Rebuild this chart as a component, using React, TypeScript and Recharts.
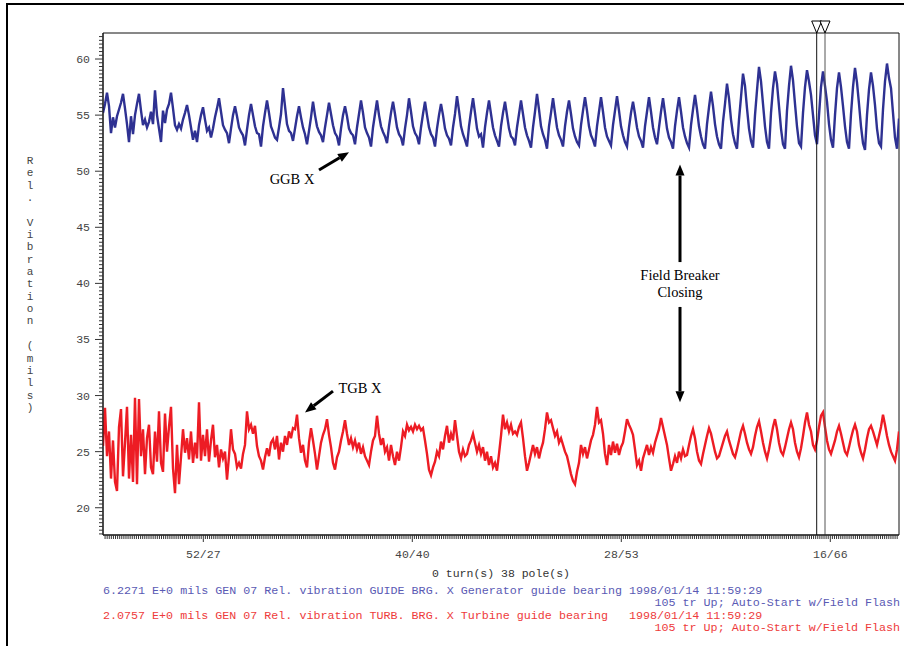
import React from 'react';
import { LineChart, Line, XAxis, YAxis, ReferenceLine, ReferenceArea, ReferenceDot } from 'recharts';

// GGB X (generator guide bearing), one value per sample
const ggbValues = [
  55.2, 56.0, 57.0, 55.8, 53.4, 54.8, 53.9, 54.9, 55.5, 56.1,
  56.9, 55.6, 54.2, 52.6, 54.9, 53.3, 55.0, 56.0, 56.9, 55.4,
  54.1, 54.6, 53.9, 54.4, 55.3, 54.2, 57.2, 55.0, 53.8, 52.6,
  55.4, 54.3, 55.5, 56.0, 57.0, 55.6, 54.1, 53.7, 54.2, 53.8,
  54.6, 55.2, 55.9, 55.0, 53.9, 52.8, 53.6, 52.6, 54.1, 55.0,
  55.7, 54.6, 53.6, 53.9, 53.0, 53.8, 54.8, 55.6,
  56.5, 55.3, 54.1, 53.7, 53.4, 52.5, 53.8, 55.0,
  55.8, 54.9, 53.9, 53.5, 53.2, 52.3, 53.7, 55.0,
  56.0, 55.0, 54.0, 53.4, 53.3, 52.2, 54.0, 55.2,
  56.3, 55.2, 54.0, 53.5, 53.0, 52.8, 53.9, 55.1,
  57.4, 55.8, 54.2, 53.6, 53.4, 52.7, 53.8, 54.9,
  55.8, 54.8, 53.9, 53.3, 52.4, 53.6, 54.8,
  56.2, 55.0, 54.0, 53.5, 53.2, 52.6, 53.9, 55.0,
  56.1, 55.1, 54.1, 53.4, 53.1, 52.3, 53.8, 55.0,
  55.8, 54.9, 53.8, 53.4, 53.2, 52.4, 53.9, 55.1,
  56.3, 55.2, 53.9, 53.4, 53.0, 52.2, 53.9, 55.1,
  56.3, 55.0, 54.0, 53.5, 53.1, 52.5, 54.0, 55.2,
  56.2, 55.1, 53.9, 53.3, 53.0, 52.3, 53.8, 55.0,
  56.5, 55.3, 54.0, 53.4, 53.1, 52.4, 53.9, 55.1,
  56.2, 55.0, 53.9, 53.3, 53.0, 52.2, 53.8, 55.0,
  56.0, 55.0, 53.8, 53.2, 52.9, 52.3, 53.9, 55.1,
  56.7, 55.4, 54.0, 53.3, 52.8, 52.2, 54.0, 55.3,
  56.5, 55.2, 53.8, 53.1, 53.3, 52.1, 53.9, 55.2,
  56.3, 55.1, 53.9, 53.2, 52.7, 52.2, 54.0, 55.2,
  56.2, 55.0, 53.8, 53.1, 52.9, 52.3, 53.9, 55.1,
  56.3, 55.1, 53.9, 53.2, 52.7, 52.1, 53.9, 55.3,
  56.9, 55.5, 54.0, 53.3, 52.8, 52.0, 54.0, 55.2,
  56.5, 55.2, 53.9, 53.2, 52.8, 52.2, 54.0, 55.3,
  56.3, 55.1, 53.8, 53.1, 52.6, 52.3, 54.1, 55.4,
  56.6, 55.4, 54.0, 53.2, 52.8, 52.2, 54.0, 55.3,
  56.6, 55.3, 53.9, 53.1, 52.7, 52.3, 54.1, 55.4,
  56.7, 55.4, 54.0, 53.2, 52.6, 52.2, 53.9, 55.2,
  56.2, 55.1, 53.9, 53.1, 52.7, 52.1, 54.0, 55.3,
  56.6, 55.3, 53.9, 53.0, 52.4, 53.9, 55.3,
  56.5, 55.2, 53.8, 53.0, 52.6, 52.0, 54.0, 55.4,
  56.6, 55.3, 53.9, 53.1, 52.5, 52.1, 54.1, 55.5,
  56.8, 55.5, 54.0, 53.1, 52.4, 52.0, 54.2, 55.7,
  57.1, 55.8, 54.2, 53.1, 52.4, 52.0, 54.4, 56.0,
  57.8, 56.5, 54.6, 53.3, 52.5, 52.0, 54.6, 56.6,
  58.7, 57.6, 55.6, 53.8, 52.7, 52.1, 55.0, 57.2,
  59.3, 58.0, 56.0, 54.0, 52.6, 52.0, 55.2, 57.4,
  58.9, 57.8, 55.8, 53.8, 52.4, 52.0, 55.4, 57.6,
  59.4, 58.1, 56.0, 54.0, 52.5, 52.2, 55.2, 57.5,
  59.0, 58.0, 56.8, 55.0, 53.2, 52.4, 55.0, 57.5,
  58.9, 57.6, 56.2, 54.2, 52.8, 52.1, 55.0, 57.4,
  58.8, 57.5, 55.8, 54.0, 52.6, 52.0, 55.1, 57.5,
  59.2, 57.9, 56.0, 54.0, 52.5, 51.9, 55.0, 57.3,
  58.8, 57.6, 55.9, 53.8, 52.5, 52.2, 55.5, 58.0,
  59.6, 58.3, 57.4, 55.2, 53.0, 52.0, 54.7,
];

// TGB X (turbine guide bearing), one value per sample
const tgbValues = [
  25.5, 28.9, 24.6, 26.8, 22.6, 26.0, 22.3, 21.5, 27.2, 28.8,
  22.8, 25.8, 29.0, 22.6, 26.5, 22.3, 29.8, 22.1, 29.7, 24.6,
  27.0, 23.0, 26.2, 27.4, 23.6, 23.0, 26.8, 24.1, 28.6, 24.0,
  23.2, 28.4, 25.0, 27.2, 29.0, 23.5, 21.3, 25.6, 22.1, 24.5,
  27.0, 24.9, 26.2, 24.3, 26.8, 24.0, 25.8, 24.4, 29.4, 24.2,
  26.5, 24.6, 27.0, 24.1, 26.0, 27.4, 24.5, 25.6, 23.6, 25.2,
  24.4, 25.0, 22.5, 24.6, 27.0, 25.2, 24.8, 23.6, 24.0, 23.5,
  24.8, 25.6, 28.6, 27.0, 27.4, 26.6, 27.3, 25.5, 24.6, 24.2,
  23.4, 24.5, 25.3, 24.6, 25.8, 26.1, 25.2, 26.4, 24.3, 25.8,
  25.0, 26.4, 25.6, 26.8, 26.2, 27.1, 27.0, 28.3, 26.2, 24.9,
  25.6, 24.2, 23.6, 25.8, 27.1, 26.0, 24.8, 23.4, 24.6, 25.8,
  26.5, 27.0, 27.9, 26.5, 25.4, 24.0, 23.4, 24.5, 25.0, 26.0,
  26.8, 27.8, 26.6, 25.6, 26.2, 25.4, 26.0, 25.2, 25.8, 24.8,
  25.4, 24.6, 24.2, 23.8, 25.0, 26.0, 26.4, 28.2, 26.6, 25.6,
  26.2, 25.0, 25.4, 24.2, 25.6, 24.6, 23.8, 25.0, 24.2, 25.4,
  26.8, 26.4, 27.4, 26.9, 27.2, 26.8, 27.4, 27.0, 27.3, 26.9,
  27.1, 26.0, 24.8, 23.4, 22.9, 23.6, 24.1, 25.0, 24.6, 25.9,
  25.2, 26.4, 27.3, 25.8, 26.6, 26.0, 27.8, 26.4, 25.0, 24.4,
  25.2, 24.6, 24.8, 25.6, 26.0, 26.6, 25.8, 25.0, 25.6, 24.8,
  25.4, 24.2, 25.0, 23.8, 24.6, 23.6, 24.0, 23.3, 24.8, 26.4,
  28.3, 27.0, 27.6, 26.8, 27.4, 26.6, 26.8, 26.5, 27.2, 27.6,
  26.2, 24.6, 23.3, 24.0, 24.8, 25.6, 24.8, 25.4, 24.4, 25.2,
  25.8, 27.0, 28.5, 27.6, 27.8, 27.1, 26.4, 26.8, 25.8, 26.2,
  25.6, 25.0, 24.6, 23.8, 23.0, 22.4, 22.1, 23.2, 24.0, 25.6,
  24.8, 25.4, 24.4, 25.2, 26.0, 26.5, 27.4, 29.0, 27.6, 27.8,
  26.6, 24.8, 23.8, 25.6, 24.7, 25.9, 24.9, 25.7, 24.7, 25.4,
  25.8, 26.8, 27.9, 27.4, 27.0, 26.5, 25.2, 23.8, 24.2, 23.3,
  24.4, 25.0, 25.6, 24.7, 25.4, 24.9, 25.8, 26.4, 27.0, 28.0,
  27.2, 26.4, 25.6, 24.4, 23.3, 23.9, 24.6, 24.0, 25.0, 24.4,
  25.2, 24.6, 24.7, 25.6, 26.4, 27.0, 26.2, 25.0, 24.2, 23.9,
  24.8, 25.6, 26.4, 27.1, 26.6, 25.8, 25.0, 24.4, 24.6, 25.2,
  25.8, 26.4, 26.8, 26.0, 25.4, 24.8, 24.5, 25.2, 26.0, 26.8,
  27.3, 26.6, 25.8, 25.2, 24.8, 25.4, 26.4, 27.2, 27.7, 26.8,
  25.8, 25.0, 24.4, 25.2, 26.2, 27.2, 27.9, 27.0, 25.8, 25.0,
  24.7, 25.4, 26.2, 27.0, 27.6, 27.0, 25.8, 25.0, 24.5, 25.3,
  26.4, 27.6, 28.5, 27.4, 26.8, 25.6, 25.2, 26.0, 27.2, 28.2,
  28.5, 27.2, 26.0, 25.2, 24.8, 25.4, 26.0, 26.8, 27.3, 26.6,
  25.8, 25.0, 24.7, 25.4, 26.2, 26.9, 27.4, 26.8, 25.6, 24.9,
  24.4, 25.2, 26.2, 27.0, 27.3, 26.8, 26.2, 25.6, 26.4, 27.2,
  28.3, 27.4, 26.4, 25.6, 25.0, 24.6, 24.2, 25.2, 26.8,
];

// x axis: sample index, labelled turn/pole
const xMajorTicks = [50.15, 154.65, 259.15, 363.65];
const xMajorLabels = ['52/27', '40/40', '28/53', '16/66'];
const cursorSamples = [356.85, 361];
const xDomain: [number, number] = [0, 398];
const yDomain: [number, number] = [17.57, 62.32];

const data = ggbValues.map((v, i) => ({ sample: i, ggb: v, tgb: tgbValues[i] }));

const xTicks: number[] = [];
for (let k = -47; k <= 332; k++) xTicks.push(50.15 + k * 1.045);
const yTicks: number[] = [];
for (let k = 53; k <= 186; k++) yTicks.push(k / 3);

const mono = '"Liberation Mono", "DejaVu Sans Mono", monospace';
const serif = '"Liberation Serif", "DejaVu Serif", serif';

const BLUE = '#2e3192';
const RED = '#ed1c24';

function YTick(props: any) {
  const { x, y, payload } = props;
  const k = Math.round(payload.value * 3);
  const major = k % 15 === 0;
  return (
    <g>
      <line x1={x - (major ? 8 : 4)} x2={x} y1={y} y2={y} stroke="#333" strokeWidth={1} />
      {major && (
        <text x={x - 13} y={y} dy={4} textAnchor="end" fontFamily={mono} fontSize={11.5} fill="#444">
          {k / 3}
        </text>
      )}
    </g>
  );
}

function XTick(props: any) {
  const { x, y, payload } = props;
  const idx = xMajorTicks.findIndex((t) => Math.abs(t - payload.value) < 1e-6);
  const major = idx >= 0;
  return (
    <g>
      <line x1={x} x2={x} y1={y} y2={y + (major ? 7 : 4)} stroke="#333" strokeWidth={1} />
      {major && (
        <text x={x} y={y} dy={23} textAnchor="middle" fontFamily={mono} fontSize={11.5} fill="#444">
          {xMajorLabels[idx]}
        </text>
      )}
    </g>
  );
}

function Arrow(props: any) {
  const { x1, y1, x2, y2 } = props;
  const dx = x2 - x1;
  const dy = y2 - y1;
  const len = Math.sqrt(dx * dx + dy * dy) || 1;
  const ux = dx / len;
  const uy = dy / len;
  const hl = 11;
  const hw = 4.5;
  const bx = x2 - ux * hl;
  const by = y2 - uy * hl;
  return (
    <g>
      <line x1={x1} y1={y1} x2={bx} y2={by} stroke="#000" strokeWidth={3} />
      <polygon
        points={`${x2},${y2} ${bx - uy * hw},${by + ux * hw} ${bx + uy * hw},${by - ux * hw}`}
        fill="#000"
      />
    </g>
  );
}

function cursorShape(color: string) {
  return (props: any) => {
    const { x1, y1, y2 } = props;
    const top = Math.min(y1, y2);
    const bottom = Math.max(y1, y2);
    return (
      <g>
        <line x1={x1} x2={x1} y1={top - 12} y2={bottom} stroke={color} strokeWidth={1} />
        <polygon points={`${x1 - 5},${top - 12} ${x1 + 5},${top - 12} ${x1},${top}`} fill="#fff" stroke="#000" strokeWidth={1} />
      </g>
    );
  };
}

const noteLabel = (value: string) => ({
  value,
  position: 'center' as const,
  fill: '#000',
  fontSize: 14.5,
  fontFamily: serif,
});

const yLabel = 'Rel. Vibration (mils)';

export default function App() {
  return (
    <div style={{ position: 'absolute', left: 0, top: 0, width: 904, height: 646, background: '#fff', overflow: 'hidden' }}>
      <div
        style={{
          position: 'absolute',
          left: 6,
          top: 3,
          width: 920,
          height: 660,
          borderTop: '2px solid #000',
          borderLeft: '2px solid #000',
        }}
      />
      <LineChart width={904} height={646} data={data} margin={{ top: 33, right: 5, bottom: 81, left: 0 }}>
        <ReferenceArea x1={xDomain[0]} x2={xDomain[1]} y1={yDomain[0]} y2={yDomain[1]} fill="none" stroke="#111" strokeWidth={1} />
        <XAxis
          dataKey="sample"
          type="number"
          domain={xDomain}
          allowDataOverflow
          ticks={xTicks}
          interval={0}
          tickSize={0}
          tickMargin={0}
          tick={<XTick />}
          tickLine={false}
          height={30}
          stroke="#111"
        />
        <YAxis
          type="number"
          domain={yDomain}
          allowDataOverflow
          ticks={yTicks}
          interval={0}
          tickSize={0}
          tickMargin={0}
          tick={<YTick />}
          tickLine={false}
          width={103}
          stroke="#111"
        />
        <Line type="linear" dataKey="ggb" stroke={BLUE} strokeWidth={2.4} dot={false} isAnimationActive={false} />
        <Line type="linear" dataKey="tgb" stroke={RED} strokeWidth={2.4} dot={false} isAnimationActive={false} />
        <ReferenceLine x={cursorSamples[0]} shape={cursorShape('#111')} />
        <ReferenceLine x={cursorSamples[1]} shape={cursorShape('#555')} />
        <ReferenceLine segment={[{ x: 108, y: 50.1 }, { x: 123, y: 51.7 }]} shape={<Arrow />} />
        <ReferenceLine segment={[{ x: 115, y: 30.4 }, { x: 101, y: 28.5 }]} shape={<Arrow />} />
        <ReferenceLine segment={[{ x: 288.5, y: 41.9 }, { x: 288.5, y: 50.6 }]} shape={<Arrow />} />
        <ReferenceLine segment={[{ x: 288.5, y: 37.9 }, { x: 288.5, y: 29.4 }]} shape={<Arrow />} />
        <ReferenceDot x={94.5} y={49.3} r={0} fill="none" stroke="none" label={noteLabel('GGB X')} />
        <ReferenceDot x={128.5} y={30.68} r={0} fill="none" stroke="none" label={noteLabel('TGB X')} />
        <ReferenceDot x={288.5} y={40.75} r={0} fill="none" stroke="none" label={noteLabel('Field Breaker')} />
        <ReferenceDot x={288.5} y={39.23} r={0} fill="none" stroke="none" label={noteLabel('Closing')} />
      </LineChart>
      <div style={{ position: 'absolute', left: 24, top: 155, width: 12, fontFamily: mono, fontSize: 11, color: '#444', textAlign: 'center' }}>
        {yLabel.split('').map((ch, i) => (
          <div key={i} style={{ height: 12.35, lineHeight: '12.35px' }}>
            {ch === ' ' ? '\u00a0' : ch}
          </div>
        ))}
      </div>
      <div style={{ position: 'absolute', left: 103, width: 796, top: 566, textAlign: 'center', fontFamily: mono, fontSize: 11.5, color: '#333', lineHeight: '16px' }}>
        0 turn(s) 38 pole(s)
      </div>
      <div style={{ position: 'absolute', left: 103, width: 797, top: 585, fontFamily: mono, fontSize: 11.7, lineHeight: '12.3px', whiteSpace: 'pre' }}>
        <div style={{ color: '#5a5ab4' }}>6.2271 E+0 mils GEN 07 Rel. vibration GUIDE BRG. X Generator guide bearing 1998/01/14 11:59:29</div>
        <div style={{ color: '#5a5ab4', textAlign: 'right' }}>105 tr Up; Auto-Start w/Field Flash</div>
        <div style={{ color: '#ee3b3b' }}>2.0757 E+0 mils GEN 07 Rel. vibration TURB. BRG. X Turbine guide bearing   1998/01/14 11:59:29</div>
        <div style={{ color: '#ee3b3b', textAlign: 'right' }}>105 tr Up; Auto-Start w/Field Flash</div>
      </div>
    </div>
  );
}
